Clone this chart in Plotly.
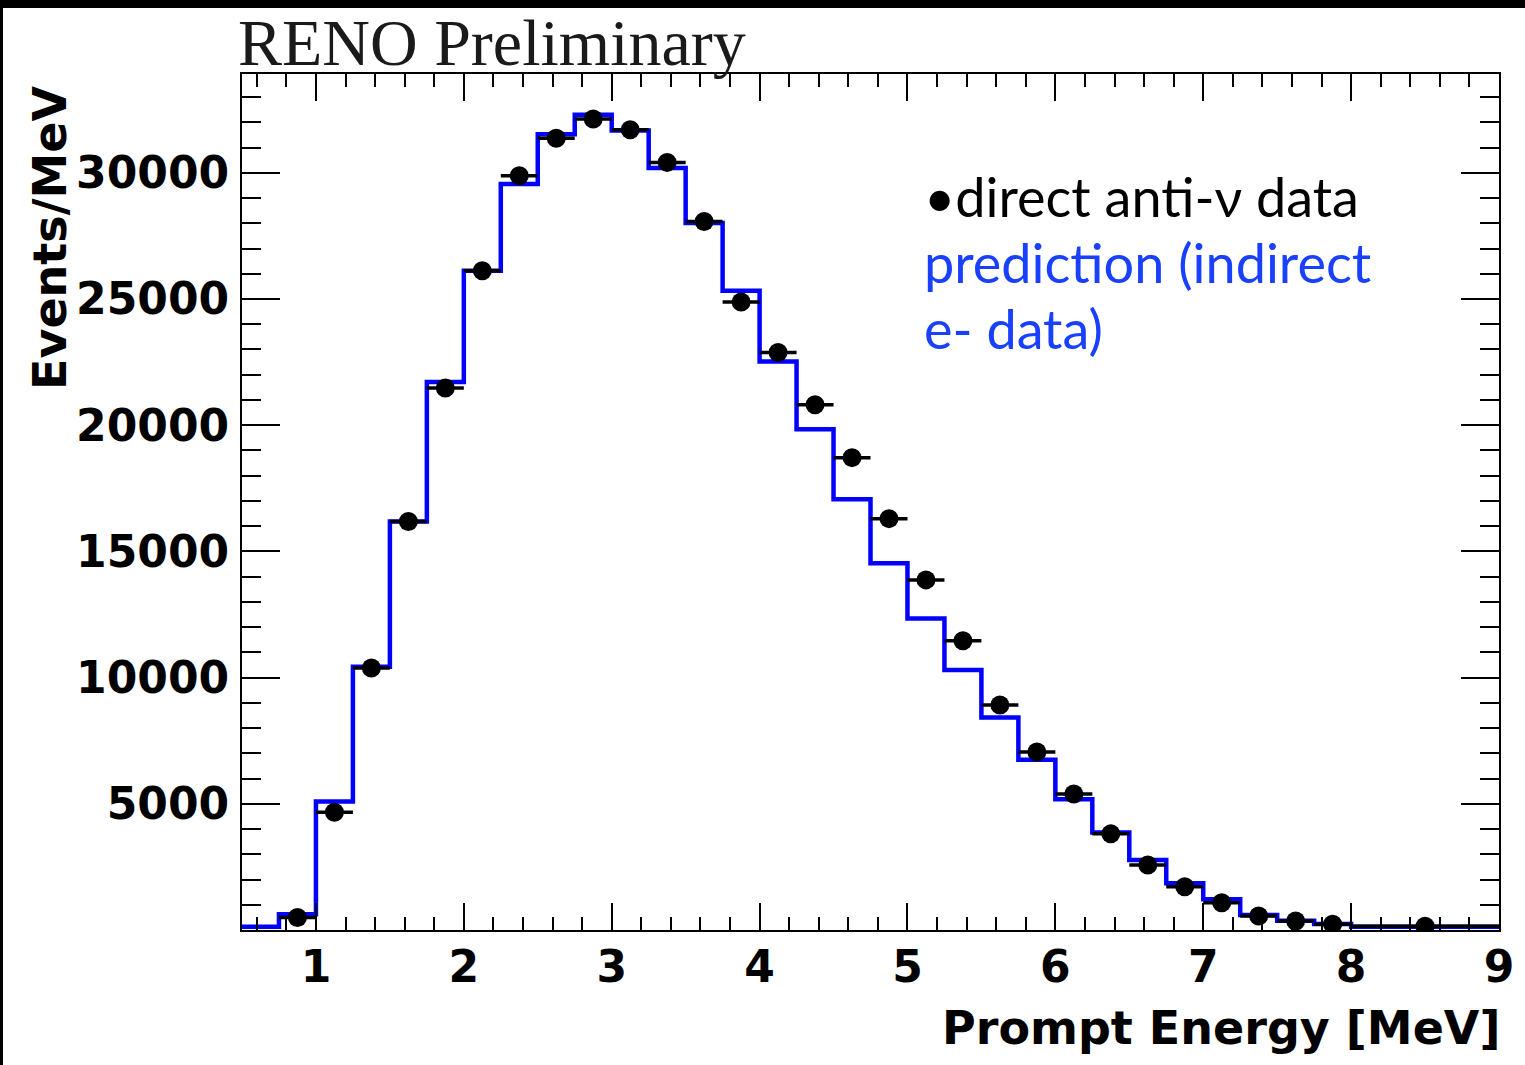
import plotly.graph_objects as go

# ---- data ----
# prediction histogram (blue), events/MeV per bin
bin_edges = [0.5, 0.75, 1.0, 1.25, 1.5, 1.75, 2.0, 2.25, 2.5, 2.75, 3.0, 3.25,
             3.5, 3.75, 4.0, 4.25, 4.5, 4.75, 5.0, 5.25, 5.5, 5.75, 6.0, 6.25,
             6.5, 6.75, 7.0, 7.25, 7.5, 7.75, 8.0, 9.0]
pred_values = [130, 620, 5095, 10426, 16187, 21711, 26118, 29557, 31530, 32300,
               31680, 30190, 28010, 25327, 22525, 19840, 17071, 14534, 12346,
               10301, 8422, 6742, 5176, 3860, 2774, 1850, 1215, 595, 370, 240, 130]

# direct anti-neutrino data points (black)
data_x = [0.875, 1.125, 1.375, 1.625, 1.875, 2.125, 2.375, 2.625, 2.875, 3.125,
          3.375, 3.625, 3.875, 4.125, 4.375, 4.625, 4.875, 5.125, 5.375, 5.625,
          5.875, 6.125, 6.375, 6.625, 6.875, 7.125, 7.375, 7.625, 7.875, 8.5]
data_y = [495, 4665, 10383, 16187, 21475, 26118, 29880, 31370, 32130, 31708,
          30413, 28074, 24878, 22881, 20809, 18715, 16298, 13872, 11458, 8918,
          7055, 5390, 3809, 2576, 1717, 1083, 555, 357, 230, 150]
data_xerr = [0.125] * 29 + [0.5]

x_ticks = [1, 2, 3, 4, 5, 6, 7, 8, 9]
y_ticks = [5000, 10000, 15000, 20000, 25000, 30000]
y_tick_labels = ["5000", "10000", "15000", "20000", "25000", "30000"]

# ---- figure ----
W, H = 1525, 1065
ML, MR, MT, MB = 242, 26, 74, 135
PW, PH = W - ML - MR, H - MT - MB

def px_x(p):
    return (p - ML) / PW

def px_y(p):
    return (H - MB - p) / PH

fig = go.Figure()

fig.add_trace(go.Scatter(
    x=bin_edges, y=pred_values + [pred_values[-1]],
    mode="lines", line=dict(color="#0000ff", width=4.5, shape="hv"),
    showlegend=False, hoverinfo="skip"))

fig.add_trace(go.Scatter(
    x=data_x, y=data_y, mode="markers",
    marker=dict(color="black", size=19, symbol="circle"),
    error_x=dict(type="data", array=data_xerr, color="black", thickness=3.5, width=0),
    showlegend=False))

tickfont = dict(family="DejaVu Sans, sans-serif", size=44, color="black", weight="bold")
titlefont = dict(family="DejaVu Sans, sans-serif", size=46, color="black", weight="bold")

fig.update_layout(
    width=W, height=H,
    margin=dict(l=ML, r=MR, t=MT, b=MB, autoexpand=False),
    paper_bgcolor="white", plot_bgcolor="white",
    showlegend=False,
    xaxis=dict(range=[0.5, 9.0], tickvals=x_ticks, ticktext=[str(v) for v in x_ticks],
               ticks="inside", ticklen=27, tickwidth=2, tickcolor="black",
               showline=True, linecolor="black", linewidth=2, mirror="allticks",
               showgrid=False, zeroline=False, tickfont=tickfont, ticklabelstandoff=-3,
               minor=dict(dtick=0.2, tick0=0, ticks="inside", ticklen=13,
                          tickwidth=2, tickcolor="black", showgrid=False),
               automargin=False),
    yaxis=dict(range=[0, 33915], tickvals=y_ticks, ticktext=y_tick_labels,
               ticks="inside", ticklen=38, tickwidth=2, tickcolor="black",
               showline=True, linecolor="black", linewidth=2, mirror="allticks",
               showgrid=False, zeroline=False, tickfont=tickfont, ticklabelstandoff=2,
               minor=dict(dtick=1000, tick0=0, ticks="inside", ticklen=19,
                          tickwidth=2, tickcolor="black", showgrid=False),
               automargin=False),
)

annotations = [
    dict(text="RENO Preliminary", x=px_x(236), y=px_y(42), xanchor="left", yanchor="middle",
         font=dict(family="Liberation Serif, Times New Roman, serif", size=66, color="#1a1a1a")),
    dict(text="Prompt Energy [MeV]", x=px_x(1502), y=px_y(1028), xanchor="right", yanchor="middle",
         font=titlefont),
    dict(text="Events/MeV", x=px_x(50), y=px_y(84), xanchor="center", yanchor="top",
         textangle=-90, font=titlefont),
    dict(text="•direct anti-ν data", x=px_x(922), y=px_y(196), xanchor="left", yanchor="middle",
         font=dict(family="Lato, Noto Sans, sans-serif", size=54, color="black")),
    dict(text="prediction (indirect", x=px_x(922), y=px_y(262), xanchor="left", yanchor="middle",
         font=dict(family="Lato, Noto Sans, sans-serif", size=54, color="#1a40ff")),
    dict(text="e- data)", x=px_x(922), y=px_y(328), xanchor="left", yanchor="middle",
         font=dict(family="Lato, Noto Sans, sans-serif", size=54, color="#1a40ff")),
]
for a in annotations:
    a.update(xref="paper", yref="paper", showarrow=False)
fig.update_layout(annotations=annotations)

# black border strips of the original screenshot
fig.add_shape(type="rect", xref="paper", yref="paper", x0=px_x(0), x1=px_x(W),
              y0=px_y(8), y1=px_y(0), fillcolor="black", line_width=0, layer="above")
fig.add_shape(type="rect", xref="paper", yref="paper", x0=px_x(0), x1=px_x(3),
              y0=px_y(H), y1=px_y(0), fillcolor="black", line_width=0, layer="above")

fig.write_html("out.html")
